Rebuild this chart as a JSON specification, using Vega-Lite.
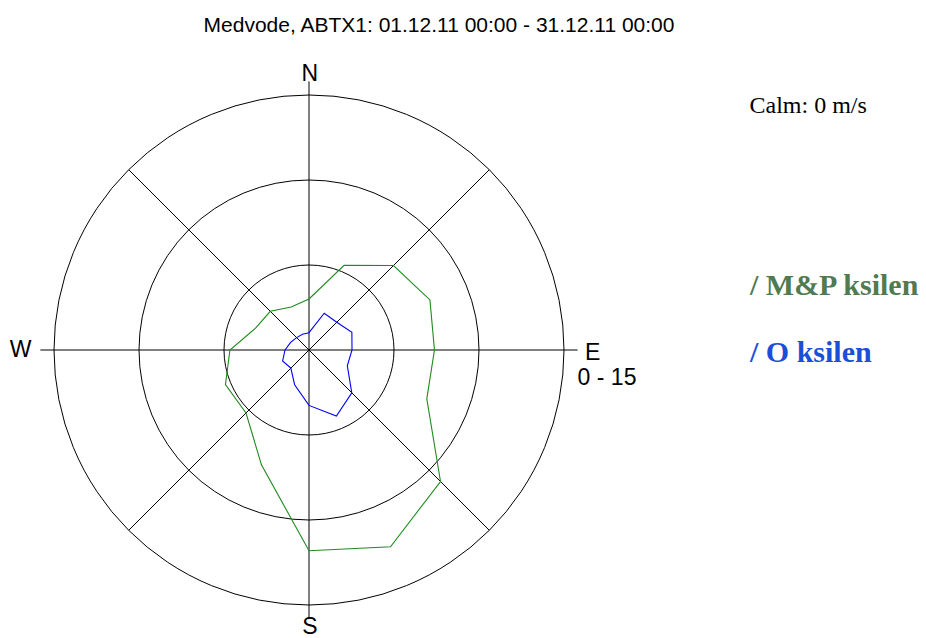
{
  "$schema": "https://vega.github.io/schema/vega-lite/v6.json",
  "width": 510,
  "height": 510,
  "autosize": {"type": "none"},
  "padding": {"left": 54, "top": 95, "right": 362, "bottom": 33},
  "background": "white",
  "config": {"view": {"stroke": null}, "font": "Liberation Sans"},
  "title": {
    "text": "Medvode, ABTX1: 01.12.11 00:00 - 31.12.11 00:00",
    "font": "Liberation Sans",
    "fontSize": 21,
    "fontWeight": "normal",
    "color": "#000000",
    "anchor": "middle",
    "frame": "group",
    "dx": 130,
    "offset": 10,
    "baseline": "alphabetic"
  },
  "datasets": {
    "rings": [{"r": 5}, {"r": 10}, {"r": 15}],
    "spokes": [
      {"dir": 0, "len": 15.8},
      {"dir": 90, "len": 15.8},
      {"dir": 45, "len": 15},
      {"dir": 135, "len": 15}
    ],
    "rose": [
      {"series": "M&P ksilen", "dir": 0, "v": 3.0},
      {"series": "M&P ksilen", "dir": 22.5, "v": 5.39},
      {"series": "M&P ksilen", "dir": 45, "v": 7.03},
      {"series": "M&P ksilen", "dir": 67.5, "v": 7.7},
      {"series": "M&P ksilen", "dir": 90, "v": 7.38},
      {"series": "M&P ksilen", "dir": 112.5, "v": 7.5},
      {"series": "M&P ksilen", "dir": 135, "v": 10.94},
      {"series": "M&P ksilen", "dir": 157.5, "v": 12.53},
      {"series": "M&P ksilen", "dir": 180, "v": 11.81},
      {"series": "M&P ksilen", "dir": 202.5, "v": 7.31},
      {"series": "M&P ksilen", "dir": 225, "v": 5.24},
      {"series": "M&P ksilen", "dir": 247.5, "v": 5.32},
      {"series": "M&P ksilen", "dir": 270, "v": 4.65},
      {"series": "M&P ksilen", "dir": 292.5, "v": 3.39},
      {"series": "M&P ksilen", "dir": 315, "v": 3.22},
      {"series": "M&P ksilen", "dir": 337.5, "v": 2.74},
      {"series": "O ksilen", "dir": 0, "v": 1.02},
      {"series": "O ksilen", "dir": 22.5, "v": 2.34},
      {"series": "O ksilen", "dir": 45, "v": 2.31},
      {"series": "O ksilen", "dir": 67.5, "v": 2.73},
      {"series": "O ksilen", "dir": 90, "v": 2.53},
      {"series": "O ksilen", "dir": 112.5, "v": 2.44},
      {"series": "O ksilen", "dir": 135, "v": 3.56},
      {"series": "O ksilen", "dir": 157.5, "v": 4.21},
      {"series": "O ksilen", "dir": 180, "v": 3.26},
      {"series": "O ksilen", "dir": 202.5, "v": 2.21},
      {"series": "O ksilen", "dir": 225, "v": 1.51},
      {"series": "O ksilen", "dir": 247.5, "v": 1.68},
      {"series": "O ksilen", "dir": 270, "v": 1.41},
      {"series": "O ksilen", "dir": 292.5, "v": 1.17},
      {"series": "O ksilen", "dir": 315, "v": 1.03},
      {"series": "O ksilen", "dir": 337.5, "v": 1.0}
    ],
    "compass": [
      {"label": "N", "x": 0.05, "y": 16.24},
      {"label": "S", "x": 0.05, "y": -16.3},
      {"label": "W", "x": -16.97, "y": 0.0},
      {"label": "E", "x": 16.68, "y": -0.18},
      {"label": "0 - 15", "x": 17.53, "y": -1.65}
    ],
    "calm": [{"label": "Calm: 0 m/s", "x": 25.91, "y": 13.92}],
    "series_labels": [
      {"series": "M&P ksilen", "label": "/ M&P ksilen", "x": 25.94, "y": 3.24},
      {"series": "O ksilen", "label": "/ O ksilen", "x": 25.94, "y": -0.68}
    ]
  },
  "layer": [
    {
      "data": {"name": "rings"},
      "mark": {"type": "arc", "filled": false, "stroke": "#000000", "strokeWidth": 1, "theta": 0, "theta2": 6.2832},
      "encoding": {
        "radius": {"field": "r", "type": "quantitative", "stack": null, "scale": {"type": "linear", "domain": [0, 15], "range": [0, 255], "zero": true}}
      }
    },
    {
      "data": {"name": "spokes"},
      "transform": [
        {"calculate": "datum.len*sin(datum.dir*PI/180)", "as": "x"},
        {"calculate": "datum.len*cos(datum.dir*PI/180)", "as": "y"},
        {"calculate": "-datum.x", "as": "x2"},
        {"calculate": "-datum.y", "as": "y2"}
      ],
      "mark": {"type": "rule", "color": "#000000", "strokeWidth": 1},
      "encoding": {
        "x": {"field": "x", "type": "quantitative", "scale": {"domain": [-15, 15], "nice": false, "zero": false}, "axis": null},
        "y": {"field": "y", "type": "quantitative", "scale": {"domain": [-15, 15], "nice": false, "zero": false}, "axis": null},
        "x2": {"field": "x2"},
        "y2": {"field": "y2"}
      }
    },
    {
      "data": {"name": "rose"},
      "transform": [
        {"calculate": "datum.v*sin(datum.dir*PI/180)", "as": "x"},
        {"calculate": "datum.v*cos(datum.dir*PI/180)", "as": "y"}
      ],
      "mark": {"type": "line", "interpolate": "linear-closed", "strokeWidth": 1.1},
      "encoding": {
        "x": {"field": "x", "type": "quantitative", "scale": {"domain": [-15, 15], "nice": false, "zero": false}, "axis": null},
        "y": {"field": "y", "type": "quantitative", "scale": {"domain": [-15, 15], "nice": false, "zero": false}, "axis": null},
        "color": {"field": "series", "type": "nominal", "scale": {"domain": ["M&P ksilen", "O ksilen"], "range": ["#1f8a1f", "#0000ff"]}, "legend": null},
        "order": {"field": "dir", "type": "quantitative"}
      }
    },
    {
      "data": {"name": "compass"},
      "mark": {"type": "text", "font": "Liberation Sans", "fontSize": 23, "align": "center", "baseline": "middle", "color": "#000000"},
      "encoding": {
        "x": {"field": "x", "type": "quantitative", "scale": {"domain": [-15, 15], "nice": false, "zero": false}, "axis": null},
        "y": {"field": "y", "type": "quantitative", "scale": {"domain": [-15, 15], "nice": false, "zero": false}, "axis": null},
        "text": {"field": "label"}
      }
    },
    {
      "data": {"name": "calm"},
      "mark": {"type": "text", "font": "Liberation Serif", "fontSize": 24, "align": "left", "baseline": "alphabetic", "color": "#000000"},
      "encoding": {
        "x": {"field": "x", "type": "quantitative", "scale": {"domain": [-15, 15], "nice": false, "zero": false}, "axis": null},
        "y": {"field": "y", "type": "quantitative", "scale": {"domain": [-15, 15], "nice": false, "zero": false}, "axis": null},
        "text": {"field": "label"}
      }
    },
    {
      "data": {"name": "series_labels"},
      "mark": {"type": "text", "font": "Liberation Serif", "fontSize": 30, "fontWeight": "bold", "align": "left", "baseline": "alphabetic"},
      "encoding": {
        "x": {"field": "x", "type": "quantitative", "scale": {"domain": [-15, 15], "nice": false, "zero": false}, "axis": null},
        "y": {"field": "y", "type": "quantitative", "scale": {"domain": [-15, 15], "nice": false, "zero": false}, "axis": null},
        "text": {"field": "label"},
        "color": {"field": "series", "type": "nominal", "scale": {"domain": ["M&P ksilen", "O ksilen"], "range": ["#4f7b4f", "#1c4fd8"]}, "legend": null}
      }
    }
  ],
  "resolve": {"scale": {"color": "independent"}}
}
